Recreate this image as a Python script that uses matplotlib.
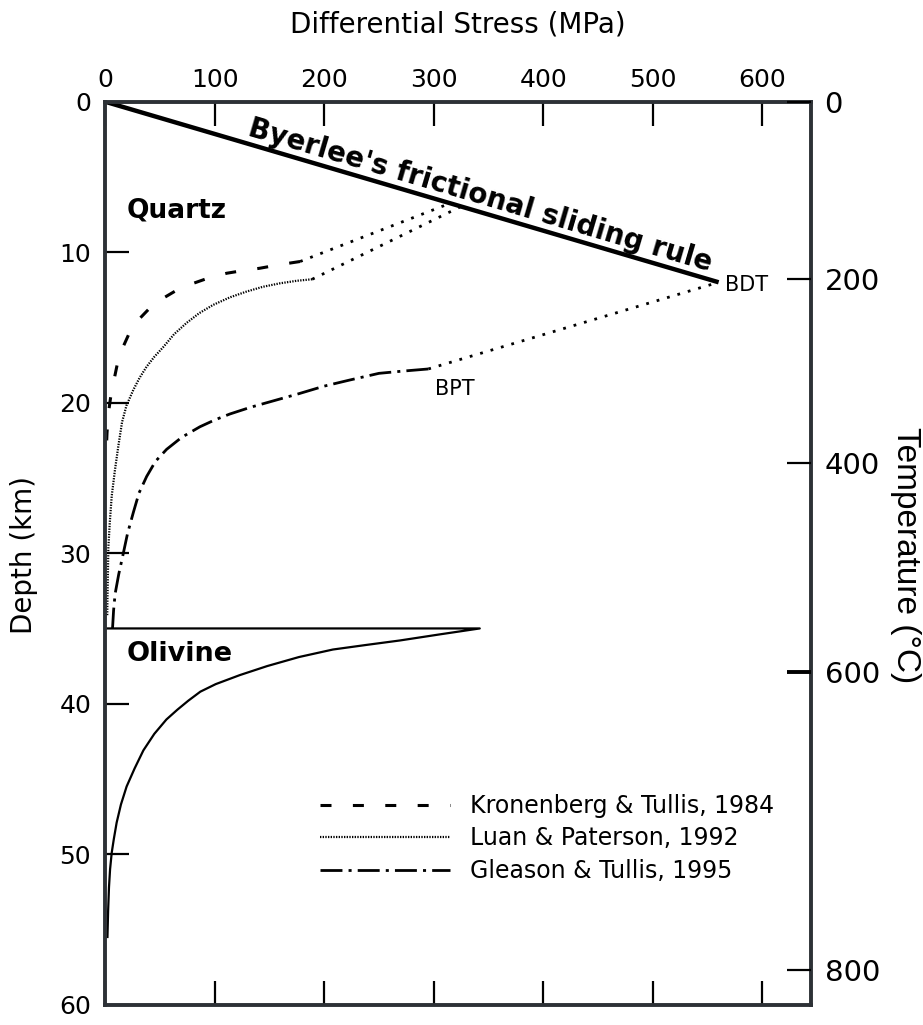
import math
import matplotlib
matplotlib.use('Agg')
import matplotlib.pyplot as plt
import matplotlib.transforms as mtransforms
from matplotlib.lines import Line2D

plt.rcParams['font.family'] = ['DejaVu Sans']

# ---------------- data ----------------
stress_ticks = [0, 100, 200, 300, 400, 500, 600]
depth_ticks = [0, 10, 20, 30, 40, 50, 60]
temp_tick_depth = [0, 11.8, 24.0, 37.9, 57.7]
temp_tick_labels = ['0', '200', '400', '600', '800']

# Byerlee's frictional sliding rule
byerlee_stress = [0, 560]
byerlee_depth = [0, 12]

# Kronenberg & Tullis, 1984 (dashed) + dotted link to Byerlee
kt_stress = [178, 160, 141, 126, 111, 95, 80.5, 66, 53, 41, 30.4, 22, 15.2, 11, 7.6, 5, 3.05, 1.8, 1.0]
kt_depth = [10.62, 10.82, 11.07, 11.22, 11.4, 11.7, 12.07, 12.5, 13.06, 13.7, 14.5, 15.4, 16.5, 17.5,
            18.7, 19.7, 20.7, 22.0, 23.4]
kt_link_stress = [178, 315]
kt_link_depth = [10.62, 6.75]

# Luan & Paterson, 1992 (fine dotted) + dotted link
lp_stress = [189, 175, 159.5, 144, 129, 114, 98.7, 86, 74.4, 63, 53.2, 45, 38, 31.5, 25.8, 19.5,
             15.5, 12.1, 9, 6.1, 4.3, 3.05, 2.2, 2.0]
lp_depth = [11.8, 11.9, 12.07, 12.3, 12.62, 13.0, 13.5, 14.05, 14.7, 15.45, 16.3, 16.95, 17.6, 18.35,
            19.15, 20.2, 21.3, 22.9, 24.5, 26.2, 28.0, 29.6, 33.1, 34.2]
lp_link_stress = [189, 325]
lp_link_depth = [11.8, 6.96]

# Gleason & Tullis, 1995 (dash-dot) + dotted link from BPT to BDT
gt_stress = [295, 272, 250, 223, 200, 177, 155, 133, 114, 100, 86.6, 70, 56.2, 46, 38, 31, 25.8,
             20.5, 16.7, 12.5, 9.2, 7.8, 7.0, 6.8]
gt_depth = [17.76, 17.9, 18.05, 18.5, 18.9, 19.4, 19.85, 20.3, 20.75, 21.15, 21.6, 22.3, 23.1, 23.9,
            24.9, 26.0, 27.3, 28.7, 30.0, 31.4, 32.7, 33.8, 34.8, 35.0]
gt_link_stress = [295, 560]
gt_link_depth = [17.76, 12]

# Olivine
ol_stress = [0, 342, 305, 269, 238, 208, 177, 148, 123, 101, 87, 76, 66, 56, 45, 35, 27, 19.7, 14.5,
             10.6, 8, 6.1, 4.6, 3.6, 2.8, 2.2]
ol_depth = [35, 35, 35.4, 35.8, 36.1, 36.4, 36.9, 37.5, 38.1, 38.7, 39.2, 39.8, 40.4, 41.05, 42.0,
            43.1, 44.3, 45.5, 46.7, 47.9, 49.0, 49.9, 51.0, 52.2, 53.8, 55.5]

legend_labels = ['Kronenberg & Tullis, 1984', 'Luan & Paterson, 1992', 'Gleason & Tullis, 1995']

# ---------------- styles ----------------
dash_k = (0, (3.6, 7.0))
dot_fine = (0, (0.6, 0.6))
dot_coarse = (0, (1, 2.9))
dashdot_g = (0, (7.9, 2.2, 1.1, 2.2))
spine_col = '#2d3136'

fig = plt.figure(figsize=(9.23, 10.25), dpi=100)
ax = fig.add_axes([0.1138, 0.0198, 0.8783 - 0.1138, 0.9008 - 0.0198])
ax.set_xlim(0, 644)
ax.set_ylim(60, 0)

ax.plot(byerlee_stress, byerlee_depth, color='black', lw=3.2, solid_capstyle='butt')
ax.plot(kt_stress, kt_depth, color='black', lw=2.2, linestyle=dash_k)
ax.plot(kt_link_stress, kt_link_depth, color='black', lw=2.0, linestyle=dot_coarse)
ax.plot(lp_stress, lp_depth, color='black', lw=1.6, linestyle=dot_fine)
ax.plot(lp_link_stress, lp_link_depth, color='black', lw=2.0, linestyle=dot_coarse)
ax.plot(gt_stress, gt_depth, color='black', lw=2.0, linestyle=dashdot_g)
ax.plot(gt_link_stress, gt_link_depth, color='black', lw=2.0, linestyle=dot_coarse)
ax.plot(ol_stress, ol_depth, color='black', lw=1.6)

# axes styling
ax.set_xticks(stress_ticks)
ax.set_yticks(depth_ticks)
ax.tick_params(axis='x', which='both', direction='in', top=True, bottom=True,
               labeltop=True, labelbottom=False, length=17, width=1.6,
               labelsize=18, pad=7, color='black')
ax.tick_params(axis='y', direction='in', left=True, right=False, labelleft=True,
               labelright=False, length=17, width=1.6, labelsize=18, pad=10,
               color='black')
for s in ax.spines.values():
    s.set_color(spine_col)
    s.set_linewidth(2.8)

ax2 = ax.twinx()
ax2.set_ylim(60, 0)
ax2.set_yticks(temp_tick_depth)
ax2.set_yticklabels(temp_tick_labels)
ax2.tick_params(axis='y', direction='in', right=True, left=False, labelright=True,
                labelleft=False, length=17, width=1.6, labelsize=21, pad=10,
                color='black')
for s in ax2.spines.values():
    s.set_visible(False)
ax2.yaxis.get_major_ticks()[3].tick2line.set_markeredgewidth(2.8)

# Byerlee text along the line
d0 = ax.transData.transform((byerlee_stress[0], byerlee_depth[0]))
d1 = ax.transData.transform((byerlee_stress[1], byerlee_depth[1]))
ang = math.degrees(math.atan2(d1[1] - d0[1], d1[0] - d0[0]))
tx = 338
ty = tx * byerlee_depth[1] / byerlee_stress[1]
nx, ny = -math.sin(math.radians(ang)), math.cos(math.radians(ang))
off = mtransforms.offset_copy(ax.transData, fig=fig, x=nx * 2, y=ny * 2, units='dots')
ax.text(tx, ty, "Byerlee's frictional sliding rule", rotation=ang,
        rotation_mode='anchor', ha='center', va='bottom', fontsize=20,
        fontweight='bold', transform=off)

ax.text(20, 7.7, 'Quartz', fontsize=19, fontweight='bold', ha='left', va='baseline')
ax.text(20, 37.14, 'Olivine', fontsize=19.5, fontweight='bold', ha='left', va='baseline')
ax.text(566, 12.15, 'BDT', fontsize=15, ha='left', va='center')
ax.text(301, 19.1, 'BPT', fontsize=15, ha='left', va='center')

# legend
handles = [Line2D([], [], color='black', lw=2.2, linestyle=dash_k),
           Line2D([], [], color='black', lw=1.6, linestyle=dot_fine),
           Line2D([], [], color='black', lw=2.0, linestyle=dashdot_g)]
fig.legend(handles, legend_labels, loc='upper left', bbox_to_anchor=(0.3467, 0.2254),
           frameon=False, borderpad=0, borderaxespad=0, handlelength=5.5,
           handletextpad=0.85, labelspacing=0.36, fontsize=17)

# axis titles
fig.text(458 / 923, 1 - 25 / 1025, 'Differential Stress (MPa)', fontsize=20,
         ha='center', va='center')
fig.text(24 / 923, 1 - 555 / 1025, 'Depth (km)', fontsize=20, rotation=90,
         ha='center', va='center')
fig.text(906 / 923, 1 - 555 / 1025, 'Temperature (°C)', fontsize=24, rotation=270,
         ha='center', va='center', family=['Liberation Sans Narrow', 'Liberation Sans'])

fig.savefig('out.png', dpi=100)
